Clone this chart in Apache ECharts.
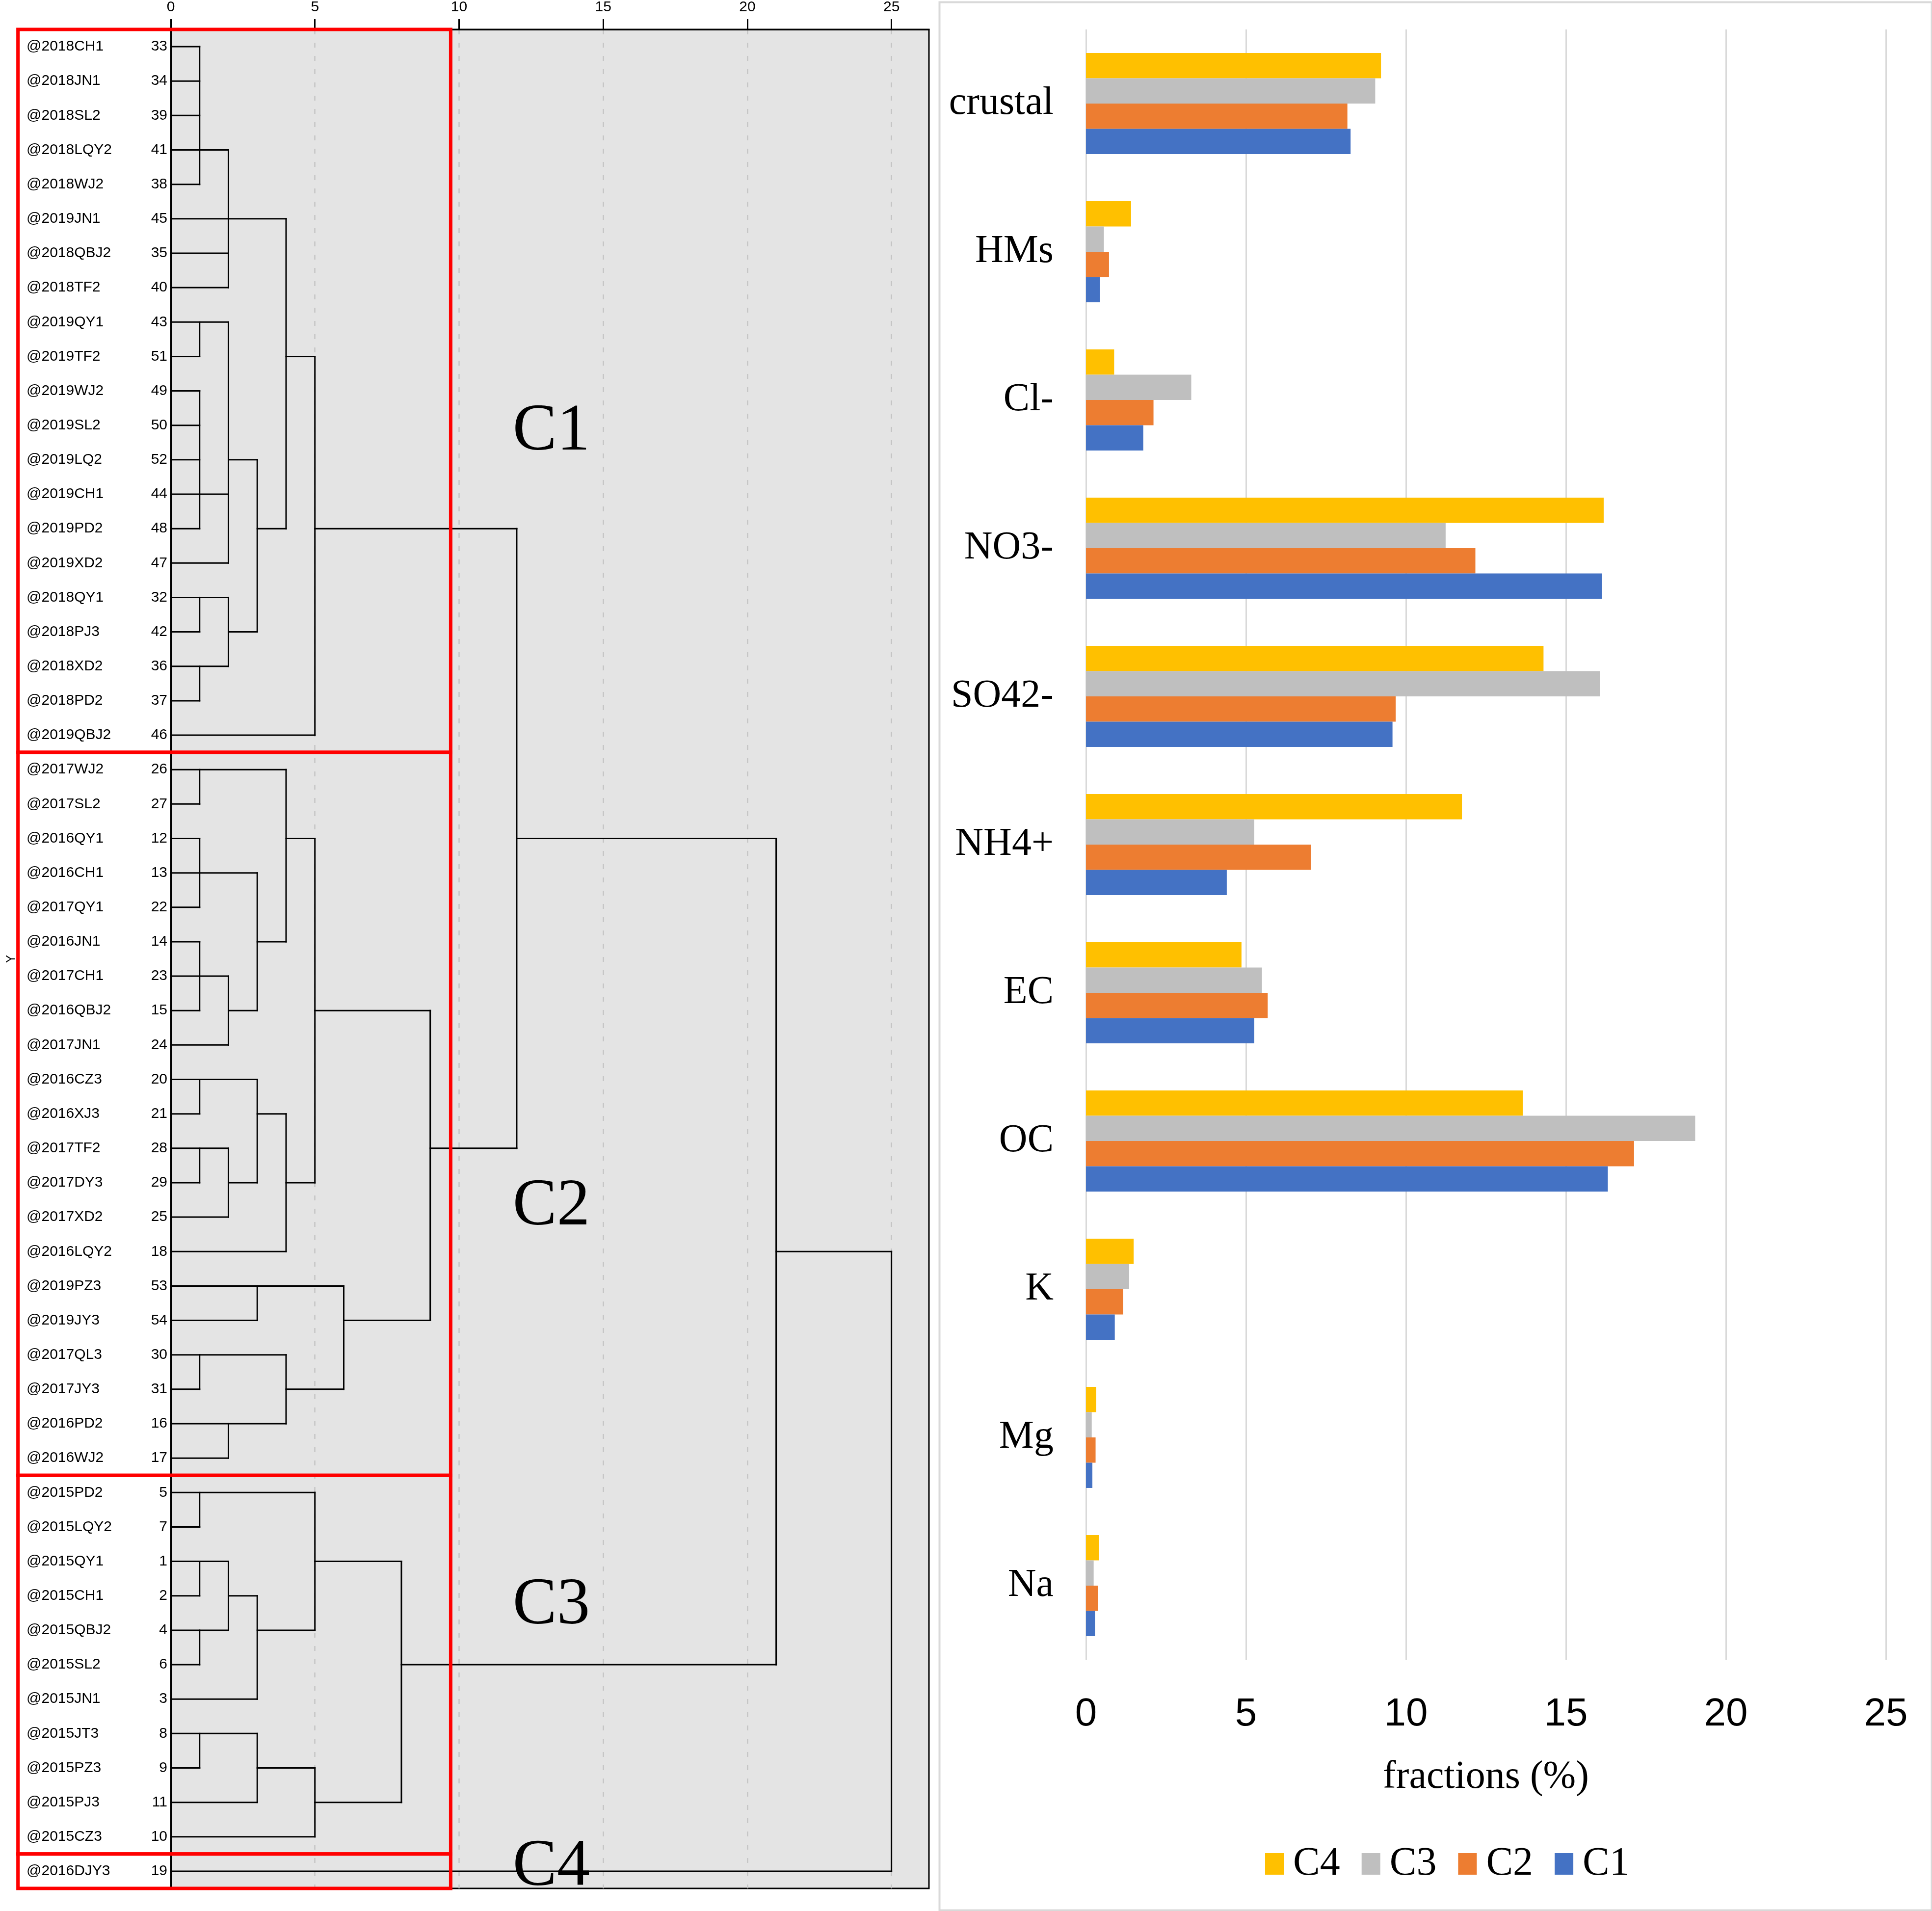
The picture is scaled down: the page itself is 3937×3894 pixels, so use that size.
<!DOCTYPE html>
<html><head><meta charset="utf-8">
<script src="https://cdn.jsdelivr.net/npm/echarts@6/dist/echarts.min.js"></script>
<style>html,body{margin:0;padding:0;background:#fff}#c{width:3937px;height:3894px}</style>
</head><body><div id="c"></div>
<script>
// ---------- Dendrogram data ----------
const leafNames = ['@2018CH1','@2018JN1','@2018SL2','@2018LQY2','@2018WJ2','@2019JN1','@2018QBJ2','@2018TF2','@2019QY1','@2019TF2','@2019WJ2','@2019SL2','@2019LQ2','@2019CH1','@2019PD2','@2019XD2','@2018QY1','@2018PJ3','@2018XD2','@2018PD2','@2019QBJ2',
'@2017WJ2','@2017SL2','@2016QY1','@2016CH1','@2017QY1','@2016JN1','@2017CH1','@2016QBJ2','@2017JN1','@2016CZ3','@2016XJ3','@2017TF2','@2017DY3','@2017XD2','@2016LQY2','@2019PZ3','@2019JY3','@2017QL3','@2017JY3','@2016PD2','@2016WJ2',
'@2015PD2','@2015LQY2','@2015QY1','@2015CH1','@2015QBJ2','@2015SL2','@2015JN1','@2015JT3','@2015PZ3','@2015PJ3','@2015CZ3','@2016DJY3'];
const leafIds = ['33','34','39','41','38','45','35','40','43','51','49','50','52','44','48','47','32','42','36','37','46',
'26','27','12','13','22','14','23','15','24','20','21','28','29','25','18','53','54','30','31','16','17',
'5','7','1','2','4','6','3','8','9','11','10','19'];
// rescaled distance at which each leaf's line ends
const leafReach = [1,1,1,2,1,4,2,2,2,1,1,1,1,2,1,2,2,1,2,1,5,
4,1,1,3,1,1,2,1,2,3,1,2,1,2,4,6,3,4,1,4,2,
5,1,2,1,2,1,3,3,1,3,5,25];
// horizontal link segments: [row, fromDist, toDist]
const linkH = [[9,4,5],[12,2,3],[14,3,4],[17,2,3],[14,5,12],
[23,4,5],[26,3,4],[28,2,3],[28,5,9],[31,3,4],[33,2,3],[33,4,5],[37,6,9],[39,4,6],[32,9,12],
[45,2,3],[46,3,5],[44,5,8],[50,3,5],[51,5,8],[47,8,21],
[23,12,21],[35,21,25]];
// vertical link segments: [dist, fromRow, toRow]
const linkV = [[1,0,4],[2,3,7],[4,5,14],[1,8,9],[2,8,15],[1,10,14],[3,12,17],[1,16,17],[2,16,18],[1,18,19],[5,9,20],[12,14,32],
[1,21,22],[4,21,26],[1,23,25],[3,24,28],[1,26,28],[2,27,29],[5,23,33],[1,30,31],[3,30,33],[1,32,33],[2,32,34],[4,31,35],[3,36,37],[1,38,39],[2,40,41],[4,38,40],[6,36,39],[9,28,37],
[1,42,43],[5,42,46],[1,44,45],[2,44,46],[1,46,47],[3,45,48],[1,49,50],[3,49,51],[5,50,52],[8,44,51],
[21,23,47],[25,35,53]];
const clusterNames = ['C1','C2','C3','C4'];
const clusterSizes = [21,21,11,1];
const distTicks = [0,5,10,15,20,25];

// ---------- Bar chart data ----------
const components = ['crustal','HMs','Cl-','NO3-','SO42-','NH4+','EC','OC','K','Mg','Na'];
const seriesC4 = [9.22,1.41,0.88,16.18,14.30,11.75,4.86,13.65,1.49,0.32,0.40];
const seriesC3 = [9.04,0.56,3.29,11.24,16.06,5.26,5.50,19.04,1.35,0.18,0.24];
const seriesC2 = [8.17,0.72,2.11,12.17,9.68,7.03,5.68,17.13,1.16,0.30,0.38];
const seriesC1 = [8.27,0.44,1.79,16.12,9.58,4.40,5.26,16.31,0.90,0.20,0.28];

// ---------- build dendrogram segments ----------
const segs = [];
leafReach.forEach((r, i) => segs.push([0, i, r, i]));
linkH.forEach(h => segs.push([h[1], h[0], h[2], h[0]]));
linkV.forEach(v => segs.push([v[0], v[1], v[0], v[2]]));

const boxes = [];
let start = 0;
clusterSizes.forEach((n, k) => { boxes.push([start - 0.5, start + n - 0.5]); start += n; });
// label anchors (row position) for cluster names
const clusterLabelRows = [11.2, 33.7, 45.3, 52.9];
const labelData = clusterNames.map((c, k) => [13.2, clusterLabelRows[k], c]);

const SANS = 'Liberation Sans, Arial, sans-serif';
const SERIF = 'Liberation Serif, Times New Roman, serif';
const NARROW = 'Liberation Sans Narrow, Arial Narrow, Liberation Sans, sans-serif';

const chart = echarts.init(document.getElementById('c'), null, {renderer: 'canvas'});
const option = {
  animation: false,
  backgroundColor: '#fff',
  grid: [
    {left: 348, top: 59, width: 1545, height: 3789, show: true, backgroundColor: '#e4e4e4', borderColor: '#000', borderWidth: 3},
    {left: 2213, top: 60, width: 1630, height: 3322}
  ],
  xAxis: [
    {type: 'value', gridIndex: 0, position: 'top', min: 0, max: 26.3, interval: 5,
     axisLine: {show: true, onZero: false, lineStyle: {color: '#000', width: 3}},
     axisTick: {show: true, length: 21, lineStyle: {color: '#000', width: 3}, customValues: distTicks},
     axisLabel: {color: '#000', fontSize: 30, fontFamily: SANS, margin: 30, customValues: distTicks},
     splitLine: {show: true, lineStyle: {color: '#c4c4c4', width: 2.5, type: [10, 17]}}},
    {type: 'value', gridIndex: 1, min: 0, max: 25, interval: 5,
     axisLine: {show: false, onZero: false}, axisTick: {show: false},
     axisLabel: {color: '#000', fontSize: 80, fontFamily: NARROW, margin: 72},
     splitLine: {show: true, lineStyle: {color: '#d9d9d9', width: 3}},
     name: 'fractions (%)', nameLocation: 'middle', nameGap: 200,
     nameTextStyle: {color: '#000', fontSize: 80, fontFamily: SERIF}}
  ],
  yAxis: [
    {type: 'category', gridIndex: 0, data: leafIds, inverse: true, position: 'left',
     axisLine: {show: true, onZero: false, lineStyle: {color: '#000', width: 3}}, axisTick: {show: false},
     axisLabel: {interval: 0, color: '#000', fontSize: 30, fontFamily: SANS, margin: 7}},
    {type: 'category', gridIndex: 0, data: leafNames, inverse: true, position: 'left',
     axisLine: {show: false, onZero: false}, axisTick: {show: false},
     axisLabel: {interval: 0, color: '#000', fontSize: 30, fontFamily: SANS, margin: 294, align: 'left'},
     name: 'Y', nameLocation: 'middle', nameGap: 312, nameRotate: 90,
     nameTextStyle: {color: '#000', fontSize: 25, fontFamily: SANS}},
    {type: 'value', gridIndex: 0, min: -0.5, max: 53.5, inverse: true, show: false},
    {type: 'category', gridIndex: 1, data: components, inverse: true,
     axisLine: {show: false}, axisTick: {show: false},
     axisLabel: {interval: 0, color: '#000', fontSize: 80, fontFamily: SERIF, margin: 66}}
  ],
  legend: {
    left: 2573, top: 3752, itemWidth: 38, itemHeight: 44, itemGap: 44,
    icon: 'rect', data: ['C4', 'C3', 'C2', 'C1'],
    textStyle: {color: '#000', fontSize: 82, fontFamily: SERIF, padding: [0, 0, 0, 14]}
  },
  graphic: [
    {type: 'rect', left: 1912, top: 2, silent: true,
     shape: {width: 2022, height: 3888}, style: {fill: 'none', stroke: '#d9d9d9', lineWidth: 4}}
  ],
  series: [
    {type: 'custom', xAxisIndex: 0, yAxisIndex: 2, data: segs, silent: true, z: 3,
     encode: {x: [0, 2], y: [1, 3]},
     renderItem: (params, api) => {
       const p0 = api.coord([api.value(0), api.value(1)]);
       const p1 = api.coord([api.value(2), api.value(3)]);
       return {type: 'line', shape: {x1: p0[0], y1: p0[1], x2: p1[0], y2: p1[1]},
               style: {stroke: '#000', lineWidth: 3, lineCap: 'square'}};
     }},
    {type: 'custom', xAxisIndex: 0, yAxisIndex: 2, data: labelData, silent: true, z: 4, clip: true,
     encode: {x: 0, y: 1},
     renderItem: (params, api) => {
       const p = api.coord([api.value(0), api.value(1)]);
       return {type: 'text', x: p[0], y: p[1],
               style: {text: labelData[params.dataIndex][2], fill: '#000', font: '135px ' + SERIF,
                       textAlign: 'center', textVerticalAlign: 'middle'}};
     }},
    {type: 'custom', xAxisIndex: 0, yAxisIndex: 2, data: boxes, silent: true, z: 10, clip: false,
     encode: {y: [0, 1]},
     renderItem: (params, api) => {
       const a = api.coord([-5.3, api.value(0)]);
       const b = api.coord([9.71, api.value(1)]);
       return {type: 'rect', shape: {x: a[0], y: a[1], width: b[0] - a[0], height: b[1] - a[1]},
               style: {fill: 'none', stroke: '#ff0000', lineWidth: 7}};
     }},
    {name: 'C4', type: 'bar', xAxisIndex: 1, yAxisIndex: 3, data: seriesC4, itemStyle: {color: '#ffc000'}, barGap: '0%', barCategoryGap: '31.8%'},
    {name: 'C3', type: 'bar', xAxisIndex: 1, yAxisIndex: 3, data: seriesC3, itemStyle: {color: '#bfbfbf'}, barGap: '0%', barCategoryGap: '31.8%'},
    {name: 'C2', type: 'bar', xAxisIndex: 1, yAxisIndex: 3, data: seriesC2, itemStyle: {color: '#ed7d31'}, barGap: '0%', barCategoryGap: '31.8%'},
    {name: 'C1', type: 'bar', xAxisIndex: 1, yAxisIndex: 3, data: seriesC1, itemStyle: {color: '#4472c4'}, barGap: '0%', barCategoryGap: '31.8%'}
  ]
};
chart.setOption(option);
</script></body></html>
